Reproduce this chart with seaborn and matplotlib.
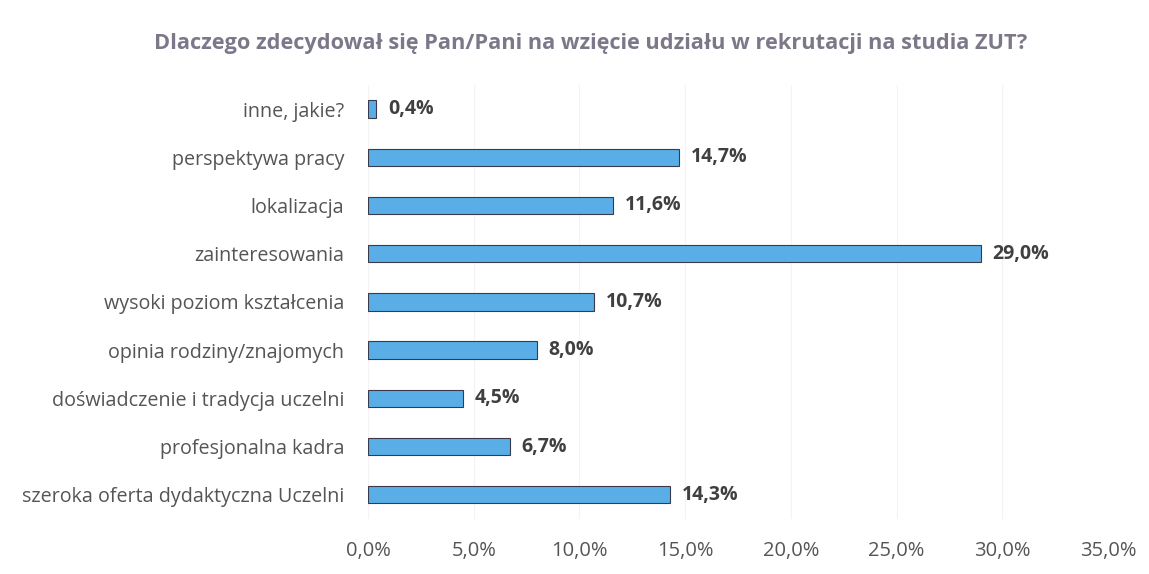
import matplotlib
matplotlib.use("Agg")
import matplotlib.pyplot as plt
import seaborn as sns
import pandas as pd
from matplotlib.ticker import FuncFormatter

categories = [
    "inne, jakie?",
    "perspektywa pracy",
    "lokalizacja",
    "zainteresowania",
    "wysoki poziom kształcenia",
    "opinia rodziny/znajomych",
    "doświadczenie i tradycja uczelni",
    "profesjonalna kadra",
    "szeroka oferta dydaktyczna Uczelni",
]
values = [0.4, 14.7, 11.6, 29.0, 10.7, 8.0, 4.5, 6.7, 14.3]
title = "Dlaczego zdecydował się Pan/Pani na wzięcie udziału w rekrutacji na studia ZUT?"

sns.set_theme(style="white")
plt.rcParams["font.family"] = ["Open Sans", "DejaVu Sans"]

df = pd.DataFrame({"cat": categories, "val": values})

fig = plt.figure(figsize=(11.49, 5.74), dpi=100)
ax = fig.add_axes([0.3203, 0.096, 0.644, 0.756])

sns.barplot(data=df, y="cat", x="val", order=categories, orient="h",
            color="#5aaee8", saturation=1, width=0.36,
            edgecolor="#3a3a4a", linewidth=0.8, ax=ax)

ax.set_xlim(0, 35)
ax.set_ylim(len(categories) - 0.5, -0.5)
ax.set_xticks([0, 5, 10, 15, 20, 25, 30, 35])
ax.xaxis.set_major_formatter(FuncFormatter(lambda v, p: f"{v:.1f}%".replace(".", ",")))
ax.grid(axis="x", color="#f3f3f3", linewidth=0.8)
ax.set_axisbelow(True)
for s in ax.spines.values():
    s.set_visible(False)
ax.set_xlabel("")
ax.set_ylabel("")
ax.tick_params(axis="x", length=0, pad=16, labelsize=14.5, labelcolor="#555555")
ax.tick_params(axis="y", length=0, pad=17, labelsize=14.2, labelcolor="#555555")

for i, v in enumerate(values):
    ax.text(v + 0.55, i, f"{v:.1f}%".replace(".", ","), va="center", ha="left",
            fontsize=14, fontweight="bold", color="#404040")

fig.text(0.514, 0.925, title, ha="center", va="center", fontsize=15.7,
         fontweight="bold", color="#7d7889")

fig.savefig("out.png", dpi=100)
